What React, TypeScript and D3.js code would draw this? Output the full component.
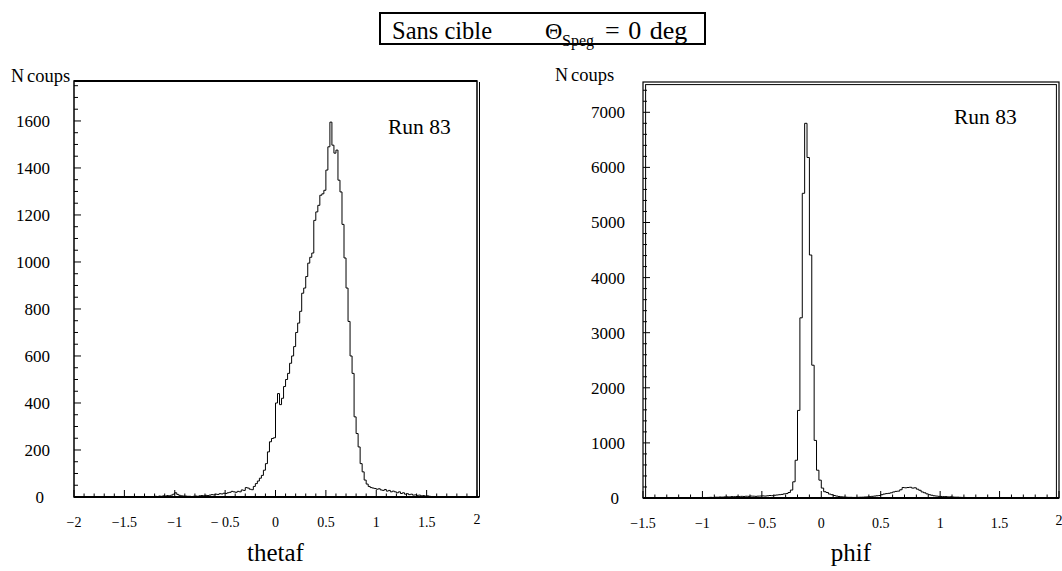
import React from 'react';
import * as d3 from 'd3';

// ---------- DATA ----------
// thetaf histogram: 200 bins of width 0.02 starting at -2.00
const thetafBinStart = -2;
const thetafBinWidth = 0.02;
const thetafCounts = [
  // -2.00 .. -1.82
  0, 0, 0, 0, 0, 0, 0, 0, 0, 0,
  // -1.80 .. -1.62
  0, 0, 0, 0, 0, 0, 0, 0, 0, 0,
  // -1.60 .. -1.42
  0, 0, 0, 0, 0, 0, 0, 0, 0, 0,
  // -1.40 .. -1.22
  0, 0, 0, 1, 0, 1, 0, 1, 2, 1,
  // -1.20 .. -1.02
  3, 2, 4, 3, 5, 4, 6, 5, 8, 12,
  // -1.00 .. -0.82
  18, 11, 7, 5, 4, 4, 3, 3, 2, 3,
  // -0.80 .. -0.62
  4, 3, 5, 6, 5, 7, 6, 8, 10, 9,
  // -0.60 .. -0.42
  12, 11, 14, 13, 16, 15, 18, 20, 24, 22,
  // -0.40 .. -0.22
  20, 24, 22, 30, 28, 40, 38, 33, 31, 45,
  // -0.20 .. -0.02
  57, 68, 80, 92, 114, 142, 192, 235, 249, 252,
  // 0.00 .. 0.18
  400, 440, 393, 420, 470, 500, 526, 569, 600, 640,
  // 0.20 .. 0.38
  700, 740, 790, 867, 889, 938, 995, 1020, 1038, 1177,
  // 0.40 .. 0.58
  1213, 1241, 1284, 1290, 1305, 1391, 1490, 1595, 1497, 1463,
  // 0.60 .. 0.78
  1476, 1348, 1298, 1160, 1017, 889, 747, 600, 526, 341,
  // 0.80 .. 0.98
  270, 213, 142, 107, 72, 55, 45, 40, 38, 36,
  // 1.00 .. 1.18
  33, 35, 30, 28, 32, 25, 28, 22, 25, 22,
  // 1.20 .. 1.38
  18, 22, 15, 18, 12, 14, 10, 12, 8, 9,
  // 1.40 .. 1.58
  7, 8, 5, 6, 4, 5, 3, 2, 2, 1,
  // 1.60 .. 1.78
  1, 1, 0, 1, 0, 0, 1, 0, 0, 0,
  // 1.80 .. 1.98
  0, 0, 0, 0, 0, 0, 0, 0, 0, 0,
];

// phif histogram: 175 bins of width 0.02 starting at -1.50
const phifBinStart = -1.5;
const phifBinWidth = 0.02;
const phifCounts = [
  // -1.50 .. -1.32
  0, 0, 0, 0, 0, 0, 0, 0, 0, 0,
  // -1.30 .. -1.12
  0, 0, 0, 0, 0, 0, 0, 1, 0, 1,
  // -1.10 .. -0.92
  1, 2, 2, 3, 4, 5, 8, 10, 12, 10,
  // -0.90 .. -0.72
  15, 14, 18, 16, 20, 22, 20, 25, 24, 28,
  // -0.70 .. -0.52
  26, 30, 28, 32, 30, 35, 33, 30, 34, 36,
  // -0.50 .. -0.32
  38, 35, 40, 45, 42, 50, 55, 60, 65, 75,
  // -0.30 .. -0.12
  80, 100, 144, 294, 685, 1590, 3270, 5530, 6800, 6180,
  // -0.10 .. 0.08
  4410, 2410, 1045, 504, 324, 180, 114, 100, 72, 60,
  // 0.10 .. 0.28
  45, 35, 28, 22, 18, 15, 12, 12, 10, 10,
  // 0.30 .. 0.48
  12, 14, 15, 18, 20, 24, 30, 35, 40, 45,
  // 0.50 .. 0.68
  60, 72, 80, 85, 95, 110, 120, 125, 150, 190,
  // 0.70 .. 0.88
  185, 190, 195, 180, 185, 160, 140, 110, 95, 75,
  // 0.90 .. 1.08
  60, 50, 40, 35, 30, 28, 25, 25, 20, 22,
  // 1.10 .. 1.28
  18, 15, 15, 12, 10, 10, 8, 6, 5, 4,
  // 1.30 .. 1.48
  3, 3, 2, 2, 1, 2, 1, 1, 0, 1,
  // 1.50 .. 1.68
  0, 0, 0, 0, 0, 0, 0, 0, 0, 0,
  // 1.70 .. 1.88
  0, 0, 0, 0, 0, 0, 0, 0, 0, 0,
  // 1.90 .. 1.98
  0, 0, 0, 0, 0,
];

const thetafXTicks = [-2, -1.5, -1, -0.5, 0, 0.5, 1, 1.5, 2];
const thetafYTicks = [0, 200, 400, 600, 800, 1000, 1200, 1400, 1600];
const phifXTicks = [-1.5, -1, -0.5, 0, 0.5, 1, 1.5, 2];
const phifYTicks = [0, 1000, 2000, 3000, 4000, 5000, 6000, 7000];

const titleLeft = 'Sans cible';
const titleTheta = 'Θ';
const titleSub = 'Speg';
const titleRest = '= 0 deg';
const runLabel = 'Run 83';
const yAxisN = 'N';
const yAxisCoups = 'coups';

const FONT = "'Liberation Serif', 'Times New Roman', Times, 'DejaVu Serif', serif";

function fmtX(v: number): string {
  if (v === -0.5) return '\u2212 0.5';
  if (v < 0) return '\u2212' + String(Math.abs(v));
  return String(v);
}

type PanelProps = {
  x0: number; x1: number; y0: number; y1: number;
  xDomain: [number, number]; yMax: number;
  counts: number[]; binStart: number; binWidth: number;
  xTicks: number[]; xMinorStep: number;
  yTicks: number[]; yMinorStep: number;
  xLabel: string;
  yLabelRight: number; zeroLabelRight: number;
  nX: number; nBase: number;
  runX: number; runBase: number;
  doubleFrame: boolean;
};

function Panel(p: PanelProps) {
  const x = d3.scaleLinear().domain(p.xDomain).range([p.x0, p.x1]);
  const y = d3.scaleLinear().domain([0, p.yMax]).range([p.y1, p.y0]);

  const pts: [number, number][] = p.counts.map((c, i) => [p.binStart + i * p.binWidth, c]);
  const last = p.binStart + p.counts.length * p.binWidth;
  pts.push([last, p.counts[p.counts.length - 1]]);
  const line = d3.line<[number, number]>()
    .x(d => x(d[0]))
    .y(d => y(d[1]))
    .curve(d3.curveStepAfter);
  const histPath = line(pts) || '';

  const xMinor = d3.range(
    Math.round(p.xDomain[0] / p.xMinorStep),
    Math.round(p.xDomain[1] / p.xMinorStep) + 1
  ).map(k => k * p.xMinorStep);
  const yMinor = d3.range(0, Math.floor(p.yMax / p.yMinorStep) + 1).map(k => k * p.yMinorStep);
  const isMajorX = (v: number) => p.xTicks.some(t => Math.abs(t - v) < 1e-6);
  const isMajorY = (v: number) => p.yTicks.some(t => Math.abs(t - v) < 1e-6);

  const ts = { fontFamily: FONT };

  return (
    <g>
      {p.doubleFrame ? (
        <g fill="none" stroke="#000">
          <rect x={p.x0} y={p.y0} width={p.x1 - p.x0} height={p.y1 - p.y0} strokeWidth={1.2} />
          <rect x={p.x0 + 2.6} y={p.y0 + 2.6} width={p.x1 - p.x0 - 5.2} height={p.y1 - p.y0 - 2.6} strokeWidth={1} />
        </g>
      ) : (
        <g fill="none" stroke="#000">
          <rect x={p.x0} y={p.y0} width={p.x1 - p.x0} height={p.y1 - p.y0} strokeWidth={1.5} />
          <line x1={p.x1 + 2.5} x2={p.x1 + 2.5} y1={p.y0 + 1} y2={p.y1} strokeWidth={1} />
          <line x1={p.x0} x2={p.x1} y1={p.y0} y2={p.y0} strokeWidth={2.2} />
        </g>
      )}
      <line x1={p.x0} x2={p.x1 + (p.doubleFrame ? 0 : 2.5)} y1={p.y1} y2={p.y1} stroke="#000" strokeWidth={2.2} />

      {xMinor.map((v, i) => (
        <line key={'xm' + i} x1={x(v)} x2={x(v)} y1={p.y1} y2={p.y1 - (isMajorX(v) ? 7 : 3.5)} stroke="#000" strokeWidth={1} />
      ))}
      {yMinor.map((v, i) => (
        <line key={'ym' + i} x1={p.x0} x2={p.x0 + (isMajorY(v) ? 7 : 4)} y1={y(v)} y2={y(v)} stroke="#000" strokeWidth={1} />
      ))}

      <path d={histPath} fill="none" stroke="#000" strokeWidth={1} />

      {p.xTicks.map((v, i) => (
        <text key={'xl' + i} x={x(v)} y={p.y1 + 30 - (i === p.xTicks.length - 1 ? 3 : 0)} textAnchor="middle"
          style={ts} fontSize={14}>{fmtX(v)}</text>
      ))}
      {p.yTicks.map((v, i) => (
        <text key={'yl' + i} x={v === 0 ? p.zeroLabelRight : p.yLabelRight} y={y(v)} dy="0.35em" textAnchor="end"
          style={ts} fontSize={17}>{String(v)}</text>
      ))}

      <text x={p.nX} y={p.nBase} style={ts} fontSize={18}>
        <tspan>{yAxisN}</tspan>
        <tspan dx={3} fontSize={18.5}>{yAxisCoups}</tspan>
      </text>

      <text x={(p.x0 + p.x1) / 2} y={561} textAnchor="middle" style={ts} fontSize={25}>{p.xLabel}</text>

      <text x={p.runX} y={p.runBase} style={ts} fontSize={21.5}>{runLabel}</text>
    </g>
  );
}

export default function App() {
  const ts = { fontFamily: FONT };
  return (
    <svg width={1062} height={571} viewBox="0 0 1062 571"
      style={{ position: 'absolute', left: 0, top: 0, background: '#fff' }}>
      <rect x={0} y={0} width={1062} height={571} fill="#fff" />

      <rect x={380} y={13} width={325} height={31} fill="none" stroke="#000" strokeWidth={2} />
      <text x={392} y={39} style={ts} fontSize={24.5}>{titleLeft}</text>
      <text x={545} y={39} style={ts} fontSize={24}>{titleTheta}</text>
      <text x={562} y={46} style={ts} fontSize={16}>{titleSub}</text>
      <text x={605} y={39} style={ts} fontSize={26} wordSpacing={2}>{titleRest}</text>

      <Panel
        x0={74} x1={477} y0={81} y1={497}
        xDomain={[-2, 2]} yMax={1770}
        counts={thetafCounts} binStart={thetafBinStart} binWidth={thetafBinWidth}
        xTicks={thetafXTicks} xMinorStep={0.1}
        yTicks={thetafYTicks} yMinorStep={50}
        xLabel="thetaf"
        yLabelRight={50} zeroLabelRight={44}
        nX={11} nBase={82}
        runX={388} runBase={134}
        doubleFrame={false}
      />
      <Panel
        x0={643} x1={1059} y0={82} y1={498}
        xDomain={[-1.5, 2]} yMax={7550}
        counts={phifCounts} binStart={phifBinStart} binWidth={phifBinWidth}
        xTicks={phifXTicks} xMinorStep={0.1}
        yTicks={phifYTicks} yMinorStep={200}
        xLabel="phif"
        yLabelRight={625} zeroLabelRight={619}
        nX={555} nBase={81}
        runX={954} runBase={124}
        doubleFrame={true}
      />
    </svg>
  );
}
